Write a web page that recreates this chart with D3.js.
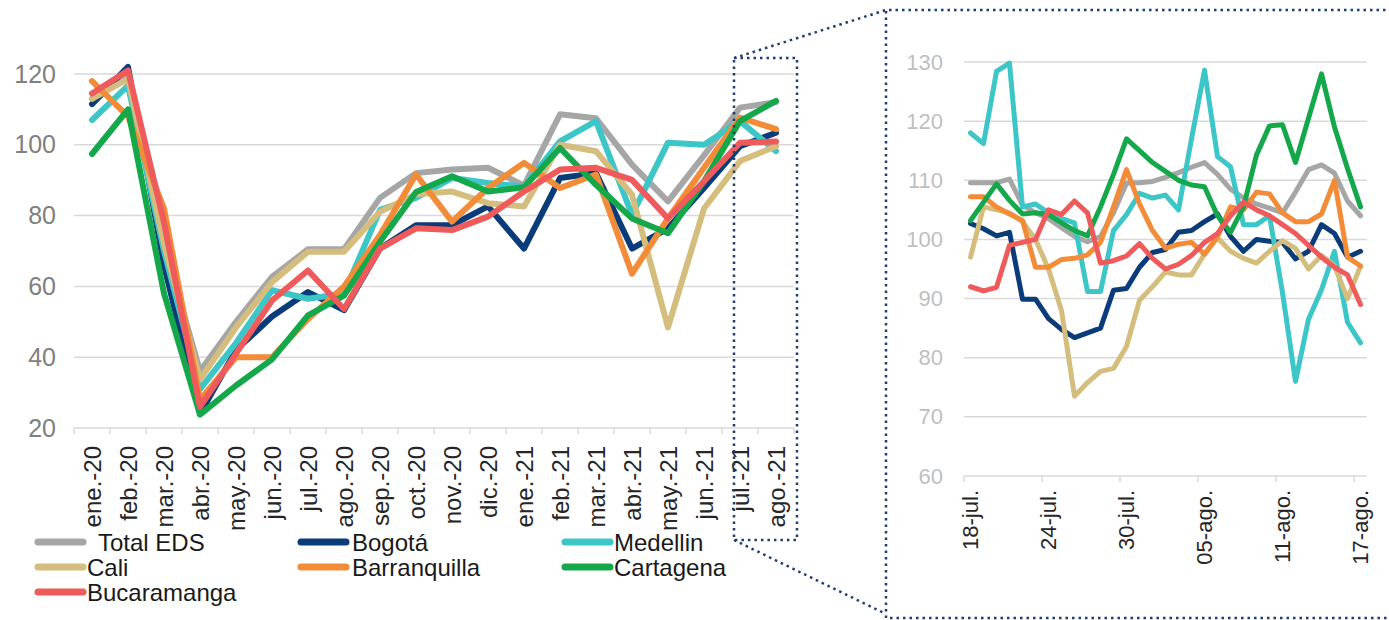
<!DOCTYPE html>
<html><head><meta charset="utf-8">
<script src="https://cdn.jsdelivr.net/npm/d3@7"></script>
<style>
body{margin:0;background:#fff}
svg{display:block;font-family:"Liberation Sans",Arial,sans-serif}
</style></head>
<body>
<svg id="c" width="1389" height="620"></svg>
<script>
// ---------- DATA ----------
const months = ["ene.-20","feb.-20","mar.-20","abr.-20","may.-20","jun.-20","jul.-20","ago.-20","sep.-20","oct.-20","nov.-20","dic.-20","ene.-21","feb.-21","mar.-21","abr.-21","may.-21","jun.-21","jul.-21","ago.-21"];
const seriesNames = ["Total EDS","Bogotá","Medellin","Cali","Barranquilla","Cartagena","Bucaramanga"];
const seriesColors = ["#A6A6A6","#0B3C7A","#3CC6C8","#D4BD7D","#F28C38","#14A84B","#EF5B5B"];

const totalM        = [113,119.5,72,36,50,62.7,70.5,70.5,85,92,93,93.5,88.5,108.6,107.5,94.4,84,97,110.5,112];
const bogotaM       = [111.5,122,66,24,42,51.5,58.4,53.3,70.7,77.3,77.3,82.6,70.7,90.6,92,70.7,76.4,87.8,99.6,103.4];
const medellinM     = [107,116.7,70,31,44,58.9,56.5,58,81.6,85,90.6,89.2,88.2,101,106.7,80.2,100.6,100,106.7,98.2];
const caliM         = [113,118.6,72,33.7,48.4,61.2,69.8,69.8,81.1,86,86.8,83.5,82.6,100,98.2,85.9,48.4,82,95.4,99.6];
const barranquillaM = [118,108,82,28,40,40,50.8,60,74.5,91.6,78.3,87.8,94.9,87.8,91.6,63.6,79.2,93.5,107.7,104.4];
const cartagenaM    = [97.4,110,58,23.8,32,39.4,51.8,57.4,72.6,86.7,91.1,86.8,88,99.1,88.7,79.2,75,89.7,106.7,112.4];
const bucaramangaM  = [114.5,121,78,26,41,56,64.5,53.6,70.7,76.4,75.9,79.7,86.8,93,93.5,90.1,79.2,89.7,100.6,100.9];

const days = ["18-jul.","19-jul.","20-jul.","21-jul.","22-jul.","23-jul.","24-jul.","25-jul.","26-jul.","27-jul.","28-jul.","29-jul.","30-jul.","31-jul.","01-ago.","02-ago.","03-ago.","04-ago.","05-ago.","06-ago.","07-ago.","08-ago.","09-ago.","10-ago.","11-ago.","12-ago.","13-ago.","14-ago.","15-ago.","16-ago.","17-ago."];
const dayTickLabels = ["18-jul.","24-jul.","30-jul.","05-ago.","11-ago.","17-ago."];

const totalD        = [109.6,109.6,109.6,110.2,105.8,104.5,103.5,102,100.5,99.6,100.5,104.5,109.5,109.6,109.8,110.5,111.3,112.2,113,111,108.5,107,106,105.3,104.5,108,111.8,112.6,111.2,106.5,104];
const bogotaD       = [102.7,101.8,100.6,101.2,89.9,89.9,86.6,84.8,83.4,84.2,85,91.4,91.7,95.3,97.8,98.3,101.2,101.5,103,104.3,100.5,98,100,99.7,99.5,96.7,98,102.5,101,97,98];
const medellinD     = [118,116.2,128.4,129.8,105.5,106,104.5,103.5,102.8,91.2,91.2,101.5,104.2,107.8,107,107.5,105,117,128.6,114,112.3,102.5,102.5,104,91,76,86.5,91.5,98,86,82.5];
const caliD         = [97,105.5,105,104.5,103,100,95,88,73.5,75.8,77.7,78.2,81.9,89.7,92,94.5,94,94,97.5,100.3,98,96.8,96,98,99.8,98.5,95,97.3,95.5,90,95.5];
const barranquillaD = [107.2,107.2,105.5,104.3,103.2,95.3,95.3,96.6,96.8,97.4,99.5,105.5,111.8,106,101.5,98.5,99.2,99.5,97.5,100.5,105.5,105,108,107.7,104.5,103,103,104.3,110,97,95.5];
const cartagenaD    = [103.2,106.3,109.4,106.6,104.3,104.5,104.2,102.8,101.5,100.6,105.5,111,117,115,113,111.5,110,109.2,108.9,104,101.2,105.5,114.3,119.2,119.4,113,120.5,128,119,112,105.5];
const bucaramangaD  = [92,91.3,91.9,99,99.5,100,105,104.2,106.5,104.5,96,96.4,97.2,99.3,96.8,95,95.8,97.3,99.5,101,104,106.3,105,104,102.5,101,99,97,95.3,94,89];

const leftTicks = [20,40,60,80,100,120];
const rightTicks = [60,70,80,90,100,110,120,130];

const monthlySeries = [totalM,bogotaM,medellinM,caliM,barranquillaM,cartagenaM,bucaramangaM];
const dailySeries = [totalD,bogotaD,medellinD,caliD,barranquillaD,cartagenaD,bucaramangaD];

// ---------- DRAW ----------
const svg = d3.select("#c");
const gridColor = "#D9D9D9";
const FONT = "Liberation Sans, Arial, sans-serif";

// ===== Left chart =====
const xL = d3.scaleBand().domain(months).range([74, 794]);
const yL = d3.scaleLinear().domain([20,120]).range([428, 74]);
const gL = svg.append("g");

gL.selectAll("line.grid").data(leftTicks.slice(1)).join("line")
  .attr("x1", 74).attr("x2", 794)
  .attr("y1", d=>yL(d)).attr("y2", d=>yL(d))
  .attr("stroke", gridColor).attr("stroke-width", 1.5);

gL.append("line").attr("x1",74).attr("x2",794).attr("y1",yL(20)).attr("y2",yL(20))
  .attr("stroke", gridColor).attr("stroke-width", 1.5);
const edgesL = months.map(m=>xL(m)).concat([xL.range()[1]]);
gL.selectAll("line.tk").data(edgesL).join("line")
  .attr("x1",d=>d).attr("x2",d=>d).attr("y1",yL(20)).attr("y2",yL(20)+6)
  .attr("stroke", gridColor).attr("stroke-width", 1.5);

const yAxL = gL.append("g").attr("transform","translate(74,0)")
  .call(d3.axisLeft(yL).tickValues(leftTicks).tickSize(0).tickPadding(18));
yAxL.select(".domain").remove();
yAxL.selectAll("text").attr("font-size",25).attr("fill","#808080").attr("font-family",FONT);

const xAxL = gL.append("g").attr("transform",`translate(0,${yL(20)})`)
  .call(d3.axisBottom(xL).tickSize(0));
xAxL.select(".domain").remove();
xAxL.selectAll("text").attr("font-size",24).attr("fill","#262626").attr("font-family",FONT)
  .attr("transform","rotate(-90)").attr("text-anchor","end")
  .attr("x",-18).attr("y",0).attr("dy","0.36em");

const lineL = d3.line().x((d,i)=>xL(months[i])+xL.bandwidth()/2).y(d=>yL(d));
gL.selectAll("path.s").data(monthlySeries).join("path")
  .attr("d", lineL).attr("fill","none")
  .attr("stroke",(d,i)=>seriesColors[i]).attr("stroke-width",6)
  .attr("stroke-linejoin","round").attr("stroke-linecap","round");

// ===== Right chart =====
const xR = d3.scaleBand().domain(days).range([964, 1367]);
const yR = d3.scaleLinear().domain([60,130]).range([476, 62]);
const gR = svg.append("g");

gR.selectAll("line.grid").data(rightTicks.slice(1)).join("line")
  .attr("x1", 964).attr("x2", 1367)
  .attr("y1", d=>yR(d)).attr("y2", d=>yR(d))
  .attr("stroke", gridColor).attr("stroke-width", 1.5);
gR.append("line").attr("x1",964).attr("x2",1367).attr("y1",yR(60)).attr("y2",yR(60))
  .attr("stroke", gridColor).attr("stroke-width", 1.5);
const edgesR = dayTickLabels.map(d=>xR(d));
gR.selectAll("line.tk").data(edgesR).join("line")
  .attr("x1",d=>d).attr("x2",d=>d).attr("y1",yR(60)).attr("y2",yR(60)+6)
  .attr("stroke", gridColor).attr("stroke-width", 1.5);

const yAxR = gR.append("g").attr("transform","translate(964,0)")
  .call(d3.axisLeft(yR).tickValues(rightTicks).tickSize(0).tickPadding(21));
yAxR.select(".domain").remove();
yAxR.selectAll("text").attr("font-size",22).attr("fill","#BFBFBF").attr("font-family",FONT);

const xAxR = gR.append("g").attr("transform",`translate(0,${yR(60)})`)
  .call(d3.axisBottom(xR).tickValues(dayTickLabels).tickSize(0));
xAxR.select(".domain").remove();
xAxR.selectAll("text").attr("font-size",22).attr("fill","#262626").attr("font-family",FONT)
  .attr("transform","rotate(-90)").attr("text-anchor","end")
  .attr("x",-14).attr("y",0).attr("dy","0.36em");

const lineR = d3.line().x((d,i)=>xR(days[i])+xR.bandwidth()/2).y(d=>yR(d));
gR.selectAll("path.s").data(dailySeries).join("path")
  .attr("d", lineR).attr("fill","none")
  .attr("stroke",(d,i)=>seriesColors[i]).attr("stroke-width",5)
  .attr("stroke-linejoin","round").attr("stroke-linecap","round");

// ===== Zoom box & connectors =====
const gZ = svg.append("g").attr("fill","none").attr("stroke","#1F3D6E")
  .attr("stroke-width",2.5).attr("stroke-dasharray","2.5 4");
const bx0 = 734, bx1 = 797, by0 = yL(124.5), by1 = 540;
gZ.append("rect").attr("x",bx0).attr("y",by0).attr("width",bx1-bx0).attr("height",by1-by0);
gZ.append("line").attr("x1",bx0).attr("y1",by0).attr("x2",886).attr("y2",10);
gZ.append("line").attr("x1",bx0).attr("y1",by1).attr("x2",886).attr("y2",614);
gZ.append("path").attr("d","M1392,10 L886,10 L886,618 L1392,618");

// ===== Legend =====
const legPos = [
  {x:35,y:542,tx:98},{x:298,y:542,tx:352},{x:562,y:542,tx:614},
  {x:35,y:567,tx:87},{x:298,y:567,tx:352},{x:562,y:567,tx:614},
  {x:35,y:592,tx:87}
];
const gLeg = svg.append("g");
seriesNames.forEach((n,i)=>{
  const p = legPos[i];
  gLeg.append("line").attr("x1",p.x+3).attr("x2",p.x+48).attr("y1",p.y).attr("y2",p.y)
    .attr("stroke",seriesColors[i]).attr("stroke-width",7).attr("stroke-linecap","round");
  gLeg.append("text").attr("x",p.tx).attr("y",p.y).attr("dy","0.36em")
    .attr("font-size",24).attr("fill","#1a1a1a").text(n);
});
</script>
</body></html>
